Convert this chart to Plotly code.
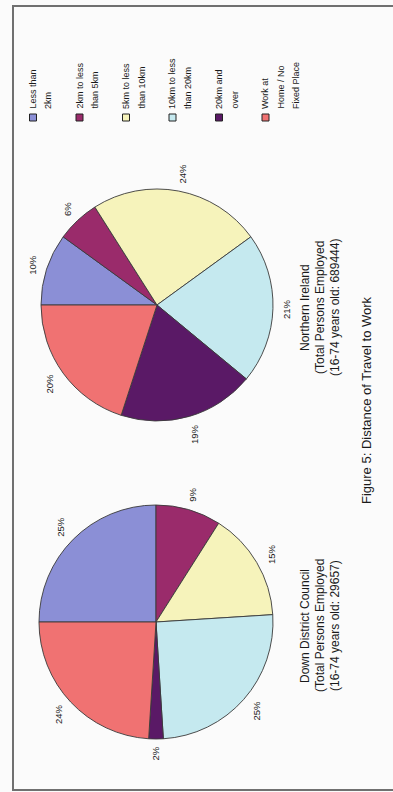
import math
import plotly.graph_objects as go

W, H = 393, 792

# Travel-to-work distance bands (series order as in the legend)
categories = [
    "Less than 2km",
    "2km to less than 5km",
    "5km to less than 10km",
    "10km to less than 20km",
    "20km and over",
    "Work at Home / No Fixed Place",
]
legend_lines = [
    ["Less than", "2km"],
    ["2km to less", "than 5km"],
    ["5km to less", "than 10km"],
    ["10km to less", "than 20km"],
    ["20km and", "over"],
    ["Work at", "Home / No", "Fixed Place"],
]
colors = ["#8b8fd6", "#9a2b6b", "#f6f3bb", "#c5e9ef", "#5a1966", "#f07272"]

# Percentage shares
down_values = [25, 9, 15, 25, 2, 24]
ni_values = [10, 6, 24, 21, 19, 20]

down_title = ["Down District Council", "(Total Persons Employed", "(16-74 years old: 29657)"]
ni_title = ["Northern Ireland", "(Total Persons Employed", "(16-74 years old: 689444)"]
caption = "Figure 5: Distance of Travel to Work"

FONT = "Liberation Sans, Arial, sans-serif"
TXT = "#1a1a1a"

# Pie placement in pixels (centre x, centre y from top, radius)
pies = [
    dict(values=ni_values, cx=157, cy=305, r=116, title=ni_title, tcy=308),
    dict(values=down_values, cx=156, cy=622, r=117, title=down_title, tcy=626),
]

START = 270  # first slice begins at the 9 o'clock position, drawn clockwise


def px(x):
    return x / W


def py(y):
    return 1 - y / H


fig = go.Figure()
annotations = []
shapes = []

for p in pies:
    cx, cy, r = p["cx"], p["cy"], p["r"]
    fig.add_trace(go.Pie(
        values=p["values"],
        labels=categories,
        sort=False,
        direction="clockwise",
        rotation=START,
        marker=dict(colors=colors, line=dict(color="#3a3a3a", width=0.9)),
        textinfo="none",
        hoverinfo="label+percent",
        showlegend=False,
        domain=dict(x=[px(cx - r), px(cx + r)], y=[py(cy + r), py(cy - r)]),
    ))

    # percentage labels just outside each slice, rotated with the figure
    total = sum(p["values"])
    cum = 0
    fs = 9.5
    for v in p["values"]:
        mid = math.radians(START + (cum + v / 2) / total * 360)
        cum += v
        label = f"{round(v / total * 100)}%"
        half_len = len(label) * 0.29 * fs
        half_w = 0.4 * fs
        rr = r + 9 + abs(math.sin(mid)) * half_w + abs(math.cos(mid)) * half_len
        lx = cx + rr * math.sin(mid)
        ly = cy - rr * math.cos(mid)
        annotations.append(dict(
            x=px(lx), y=py(ly), xref="paper", yref="paper",
            text=label, showarrow=False, textangle=-90,
            xanchor="center", yanchor="middle",
            font=dict(family=FONT, size=fs, color=TXT),
        ))

    # pie caption block to the right of the pie
    for i, line in enumerate(p["title"]):
        annotations.append(dict(
            x=px(305 + 15 * i), y=py(p["tcy"]), xref="paper", yref="paper",
            text=line, showarrow=False, textangle=-90,
            xanchor="center", yanchor="middle",
            font=dict(family=FONT, size=12, color=TXT),
        ))

# legend: square swatch followed by wrapped text
for i, (lines, col) in enumerate(zip(legend_lines, colors)):
    x0 = 33 + 46.5 * i
    shapes.append(dict(
        type="rect", xref="paper", yref="paper",
        x0=px(x0 - 3.5), x1=px(x0 + 3.5), y0=py(121), y1=py(114),
        fillcolor=col, line=dict(color="#222222", width=1),
    ))
    for j, line in enumerate(lines):
        annotations.append(dict(
            x=px(x0 + 15.5 * j), y=py(111), xref="paper", yref="paper",
            text=line, showarrow=False, textangle=-90,
            xanchor="center", yanchor="bottom",
            font=dict(family=FONT, size=9, color=TXT),
        ))

annotations.append(dict(
    x=px(366), y=py(400), xref="paper", yref="paper",
    text=caption, showarrow=False, textangle=-90,
    xanchor="center", yanchor="middle",
    font=dict(family=FONT, size=13, color=TXT),
))

# outer frame
shapes.append(dict(
    type="rect", xref="paper", yref="paper",
    x0=px(13), x1=px(W + 10), y0=py(790), y1=py(6),
    line=dict(color="#707070", width=2), fillcolor="rgba(0,0,0,0)",
))

fig.update_layout(
    width=W, height=H,
    margin=dict(l=0, r=0, t=0, b=0),
    paper_bgcolor="#fbfbfb",
    plot_bgcolor="#fbfbfb",
    annotations=annotations,
    shapes=shapes,
)

fig.write_html("out.html", config={"displayModeBar": False})
